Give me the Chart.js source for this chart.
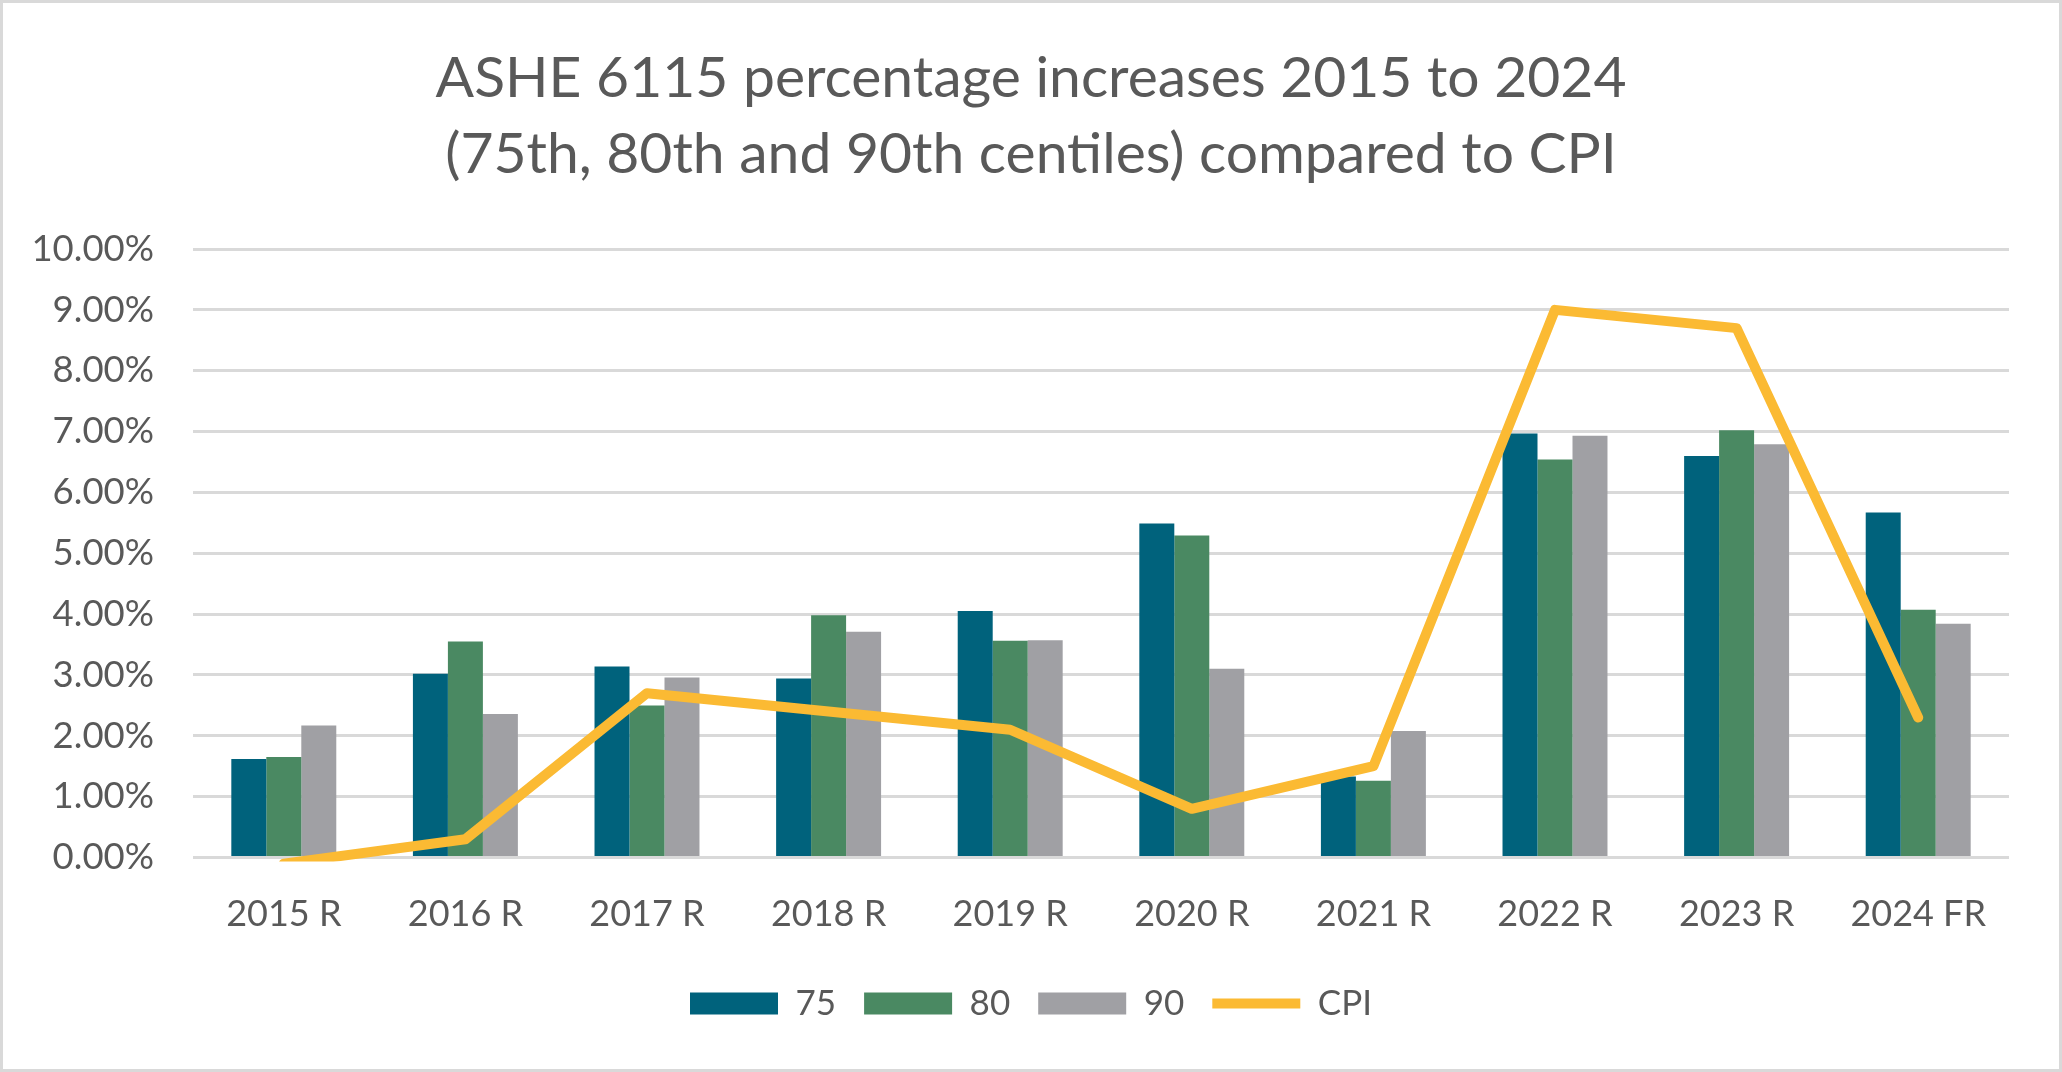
<!DOCTYPE html>
<html>
<head>
<meta charset="utf-8">
<script src="https://cdn.jsdelivr.net/npm/chart.js@4"></script>
<style>
  body { margin: 0; background: #fff; }
  #wrap { position: relative; width: 2062px; height: 1072px; }
</style>
</head>
<body>
<div id="wrap"><canvas id="chart" width="2062" height="1072"></canvas></div>
<script>
const categories = ["2015 R", "2016 R", "2017 R", "2018 R", "2019 R", "2020 R", "2021 R", "2022 R", "2023 R", "2024 FR"];
const p75 = [1.62, 3.02, 3.14, 2.94, 4.05, 5.49, 1.33, 6.97, 6.60, 5.67];
const p80 = [1.65, 3.55, 2.50, 3.98, 3.56, 5.29, 1.26, 6.54, 7.02, 4.07];
const p90 = [2.17, 2.36, 2.96, 3.71, 3.57, 3.10, 2.08, 6.93, 6.79, 3.84];
const cpi = [-0.1, 0.3, 2.7, 2.4, 2.1, 0.8, 1.5, 9.0, 8.7, 2.3];
const yTicks = ["0.00%", "1.00%", "2.00%", "3.00%", "4.00%", "5.00%", "6.00%", "7.00%", "8.00%", "9.00%", "10.00%"];

const textColor = "#595959";
const font = "Lato";

const chartBorder = {
  id: "chartBorder",
  beforeDraw(chart) {
    const ctx = chart.ctx;
    ctx.save();
    ctx.fillStyle = "#fff";
    ctx.fillRect(0, 0, chart.width, chart.height);
    ctx.strokeStyle = "#d9d9d9";
    ctx.lineWidth = 3;
    ctx.strokeRect(1.5, 1.5, chart.width - 3, chart.height - 3);
    ctx.restore();
  },
};

new Chart(document.getElementById("chart"), {
  type: "bar",
  data: {
    labels: categories,
    datasets: [
      { label: "75", data: p75, backgroundColor: "#00627c", pointStyle: "rect" },
      { label: "80", data: p80, backgroundColor: "#4a8962", pointStyle: "rect" },
      { label: "90", data: p90, backgroundColor: "#a0a0a4", pointStyle: "rect" },
      {
        type: "line",
        label: "CPI",
        data: cpi,
        borderColor: "#fbba33",
        backgroundColor: "#fbba33",
        borderWidth: 10,
        borderCapStyle: "round",
        borderJoinStyle: "round",
        pointRadius: 0,
        pointStyle: "line",
        order: -1,
        clip: { left: 5, top: 5, right: 5, bottom: 4 },
      },
    ],
  },
  options: {
    responsive: false,
    animation: false,
    categoryPercentage: 0.578,
    barPercentage: 1,
    layout: { padding: { left: 0, right: 0, top: 0, bottom: 41 } },
    plugins: {
      tooltip: { enabled: false },
      title: {
        display: true,
        text: ["ASHE 6115 percentage increases 2015 to 2024", "(75th, 80th and 90th centiles) compared to CPI"],
        color: textColor,
        font: { family: font, size: 57, weight: "normal", lineHeight: 76 / 57 },
        padding: { top: 41, bottom: 56 },
      },
      legend: {
        position: "bottom",
        labels: {
          usePointStyle: true,
          pointStyleWidth: 88,
          boxHeight: 22,
          padding: 28,
          color: textColor,
          font: { family: font, size: 35 },
          sort: (a, b) => a.datasetIndex - b.datasetIndex,
        },
      },
    },
    scales: {
      x: {
        grid: { display: false },
        border: { display: false },
        ticks: { color: textColor, font: { family: font, size: 36 }, padding: 27 },
        afterFit(scale) { scale.height = 100.5; },
      },
      y: {
        min: 0,
        max: 10,
        grid: { color: "#d9d9d9", lineWidth: 3, drawTicks: false },
        border: { display: false },
        ticks: {
          stepSize: 1,
          color: textColor,
          font: { family: font, size: 36.5 },
          padding: 39,
          callback: (v, i) => yTicks[i],
        },
        afterFit(scale) { scale.width = 193; },
      },
      // empty right-hand margin so title and legend stay centred on the canvas
      right: {
        position: "right",
        grid: { display: false },
        border: { display: false },
        ticks: { display: false },
        afterFit(scale) { scale.width = 53; },
      },
    },
  },
  plugins: [chartBorder],
});
</script>
</body>
</html>
